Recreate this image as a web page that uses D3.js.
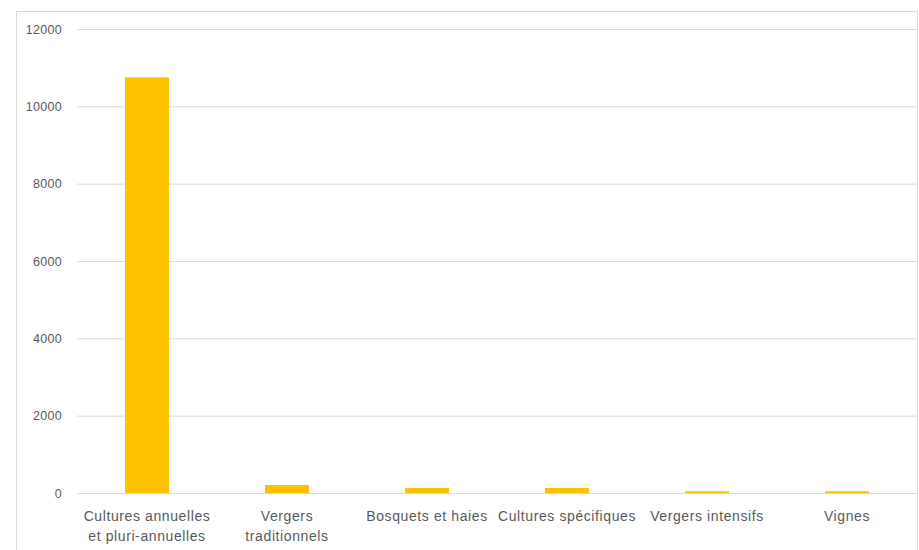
<!DOCTYPE html>
<html><head><meta charset="utf-8">
<script src="https://cdn.jsdelivr.net/npm/d3@7"></script>
<style>body{margin:0;background:#fff}svg{display:block}text{font-family:"Liberation Sans",Arial,sans-serif;fill:#595959}</style>
</head><body><svg id="c" width="919" height="550"></svg>
<script>
const categories = [["Cultures annuelles","et pluri-annuelles"],["Vergers","traditionnels"],["Bosquets et haies"],["Cultures spécifiques"],["Vergers intensifs"],["Vignes"]];
const values = [10750, 207, 130, 130, 45, 45];
const yTicks = [0, 2000, 4000, 6000, 8000, 10000, 12000];

const svg = d3.select("#c");
const L = 77, R = 917, T = 29, B = 493;
svg.append("rect").attr("x",16.5).attr("y",11.5).attr("width",901).attr("height",540).attr("fill","none").attr("stroke","#d9d9d9");
const x = d3.scaleBand().domain(d3.range(categories.length)).range([L,R]).padding(0);
const y = d3.scaleLinear().domain([0,12000]).range([B,T]);

const yAxis = d3.axisLeft(y).tickValues(yTicks).tickSize(-(R-L)).tickPadding(15).tickFormat(d3.format("d"));
const ga = svg.append("g").attr("transform",`translate(${L},0)`).call(yAxis);
ga.select(".domain").remove();
ga.selectAll("line").attr("stroke","#d9d9d9");
ga.selectAll("text").style("font-size","12.5px").style("letter-spacing","0.3px").attr("fill","#595959");

const bw = x.bandwidth()*0.314;
svg.append("g").selectAll("rect").data(values).join("rect")
  .attr("x",(d,i)=>x(i)+x.bandwidth()/2-bw/2).attr("width",bw)
  .attr("y",d=>y(d)).attr("height",d=>B-y(d)).attr("fill","#FFC000");

const xAxis = d3.axisBottom(x).tickSize(0).tickFormat(()=> "");
const gx = svg.append("g").attr("transform",`translate(0,${B})`).call(xAxis);
gx.select(".domain").attr("stroke","#d9d9d9");
gx.selectAll(".tick").each(function(d){
  const t = d3.select(this).append("text").attr("text-anchor","middle").style("font-size","14px").style("letter-spacing","0.6px").attr("fill","#595959");
  categories[d].forEach((s,j)=>t.append("tspan").attr("x",0).attr("y",28+j*20).text(s));
});
</script></body></html>
